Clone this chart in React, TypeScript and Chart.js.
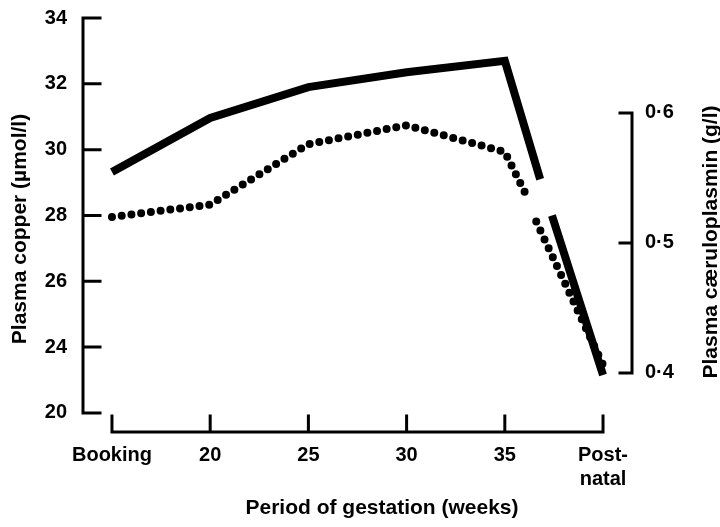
import React, { useEffect, useRef } from "react";
import { Chart, registerables } from "chart.js";

Chart.register(...registerables);

// Category axis (period of gestation)
const categoryPositions = [0, 1, 2, 3, 4, 5];
const categoryLabels: (string | string[])[] = ["Booking", "20", "25", "30", "35", ["Post-", "natal"]];

// Plasma copper (solid line, left axis, µmol/l); null marks the break before post-natal
const copperX = [0, 1, 2, 3, 4, 4.36, 4.42, 4.48, 5];
const copperY = [29.32, 30.96, 31.9, 32.35, 32.7, 29.1, null, 28.0, 23.15];

// Plasma caeruloplasmin (dotted line, right axis, g/l)
const ceruloX = [0, 1, 2, 3, 4, 4.21, 4.27, 4.32, 5];
const ceruloY = [0.520, 0.5295, 0.576, 0.5905, 0.570, 0.538, null, 0.5164, 0.4062];

// Tick values and labels (axis is broken: bottom tick reads 20)
const copperTicks = [22, 24, 26, 28, 30, 32, 34];
const copperTickLabels = ["20", "24", "26", "28", "30", "32", "34"];
const ceruloTicks = [0.4, 0.5, 0.6];
const ceruloTickLabels = ["0\u00B74", "0\u00B75", "0\u00B76"];

const leftTitle = "Plasma copper (\u00B5mol/l)";
const rightTitle = "Plasma c\u00E6ruloplasmin (g/l)";
const xTitle = "Period of gestation (weeks)";

const FONT_FAMILY = "'Liberation Sans', Arial, Helvetica, sans-serif";
const tickFont = { family: FONT_FAMILY, size: 20, weight: "bold" as const, lineHeight: 1.2 };

const framePlugin = {
  id: "frame",
  afterDraw(chart: any) {
    const { ctx, chartArea, scales } = chart;
    const xs = scales.x;
    const ys = scales.y;
    const y2 = scales.y2;
    ctx.save();
    ctx.strokeStyle = "#000";
    ctx.lineWidth = 3;
    ctx.lineCap = "square";

    // left axis
    const lx = chartArea.left;
    ctx.beginPath();
    ctx.moveTo(lx, ys.getPixelForValue(copperTicks[copperTicks.length - 1]));
    ctx.lineTo(lx, ys.getPixelForValue(copperTicks[0]));
    copperTicks.forEach((v) => {
      const py = ys.getPixelForValue(v);
      ctx.moveTo(lx, py);
      ctx.lineTo(lx + 17, py);
    });
    ctx.stroke();

    // right axis
    const rx = chartArea.right;
    ctx.beginPath();
    ctx.moveTo(rx, y2.getPixelForValue(ceruloTicks[ceruloTicks.length - 1]));
    ctx.lineTo(rx, y2.getPixelForValue(ceruloTicks[0]));
    ceruloTicks.forEach((v) => {
      const py = y2.getPixelForValue(v);
      ctx.moveTo(rx, py);
      ctx.lineTo(rx - 12, py);
    });
    ctx.stroke();

    // x axis
    const by = chartArea.bottom;
    ctx.beginPath();
    ctx.moveTo(xs.getPixelForValue(categoryPositions[0]), by);
    ctx.lineTo(xs.getPixelForValue(categoryPositions[categoryPositions.length - 1]), by);
    categoryPositions.forEach((v) => {
      const px = xs.getPixelForValue(v);
      ctx.moveTo(px, by);
      ctx.lineTo(px, by - 16);
    });
    ctx.stroke();

    // titles
    ctx.fillStyle = "#000";
    ctx.font = `bold 21px ${FONT_FAMILY}`;
    ctx.textAlign = "center";
    ctx.textBaseline = "middle";

    ctx.save();
    ctx.translate(20, 229);
    ctx.rotate(-Math.PI / 2);
    ctx.fillText(leftTitle, 0, 0);
    ctx.restore();

    ctx.save();
    ctx.translate(711, 242);
    ctx.rotate(-Math.PI / 2);
    ctx.fillText(rightTitle, 0, 0);
    ctx.restore();

    ctx.fillText(xTitle, 382, 508);
    ctx.restore();
  },
};

export default function App() {
  const canvasRef = useRef<HTMLCanvasElement | null>(null);

  useEffect(() => {
    const canvas = canvasRef.current;
    if (!canvas) return;
    const chart = new Chart(canvas, {
      type: "line",
      data: {
        datasets: [
          {
            label: "Plasma copper",
            data: copperX.map((x, i) => ({ x, y: copperY[i] })) as any,
            yAxisID: "y",
            borderColor: "#000",
            borderWidth: 8,
            borderCapStyle: "butt",
            borderJoinStyle: "miter",
            pointRadius: 0,
            tension: 0,
            spanGaps: false,
            fill: false,
          },
          {
            label: "Plasma caeruloplasmin",
            data: ceruloX.map((x, i) => ({ x, y: ceruloY[i] })) as any,
            yAxisID: "y2",
            borderColor: "#000",
            borderWidth: 8,
            borderDash: [0, 9.8],
            borderCapStyle: "round",
            borderJoinStyle: "round",
            pointRadius: 0,
            tension: 0,
            spanGaps: false,
            fill: false,
          },
        ],
      },
      options: {
        responsive: false,
        animation: false,
        layout: { padding: { top: 18, left: 0, right: 0, bottom: 0 } },
        plugins: {
          legend: { display: false },
          tooltip: { enabled: false },
        },
        scales: {
          x: {
            type: "linear",
            position: "bottom",
            min: -0.295,
            max: 5.295,
            afterBuildTicks: (s: any) => {
              s.ticks = categoryPositions.map((v) => ({ value: v }));
            },
            afterFit: (s: any) => {
              s.height = 95;
              s.paddingLeft = 0;
              s.paddingRight = 0;
            },
            ticks: {
              autoSkip: false,
              maxRotation: 0,
              minRotation: 0,
              padding: 11,
              color: "#000",
              font: tickFont,
              callback: (_v: any, i: number) => categoryLabels[i],
            },
            grid: { display: false, drawTicks: false },
            border: { display: false },
          },
          y: {
            type: "linear",
            position: "left",
            min: 21.42,
            max: 34,
            afterBuildTicks: (s: any) => {
              s.ticks = copperTicks.map((v) => ({ value: v }));
            },
            afterFit: (s: any) => {
              s.width = 83;
              s.paddingTop = 0;
              s.paddingBottom = 0;
            },
            ticks: {
              padding: 16,
              color: "#000",
              font: tickFont,
              callback: (_v: any, i: number) => copperTickLabels[i],
            },
            grid: { display: false, drawTicks: false },
            border: { display: false },
          },
          y2: {
            type: "linear",
            position: "right",
            min: 0.3546,
            max: 0.673,
            afterBuildTicks: (s: any) => {
              s.ticks = ceruloTicks.map((v) => ({ value: v }));
            },
            afterFit: (s: any) => {
              s.width = 88;
              s.paddingTop = 0;
              s.paddingBottom = 0;
            },
            ticks: {
              padding: 13,
              color: "#000",
              font: tickFont,
              callback: (_v: any, i: number) => ceruloTickLabels[i],
            },
            grid: { display: false, drawTicks: false },
            border: { display: false },
          },
        },
      },
      plugins: [framePlugin],
    });
    return () => chart.destroy();
  }, []);

  return (
    <div style={{ position: "absolute", left: 0, top: 0, width: 720, height: 527, background: "#fff" }}>
      <canvas ref={canvasRef} width={720} height={527} style={{ width: 720, height: 527, display: "block" }} />
    </div>
  );
}
